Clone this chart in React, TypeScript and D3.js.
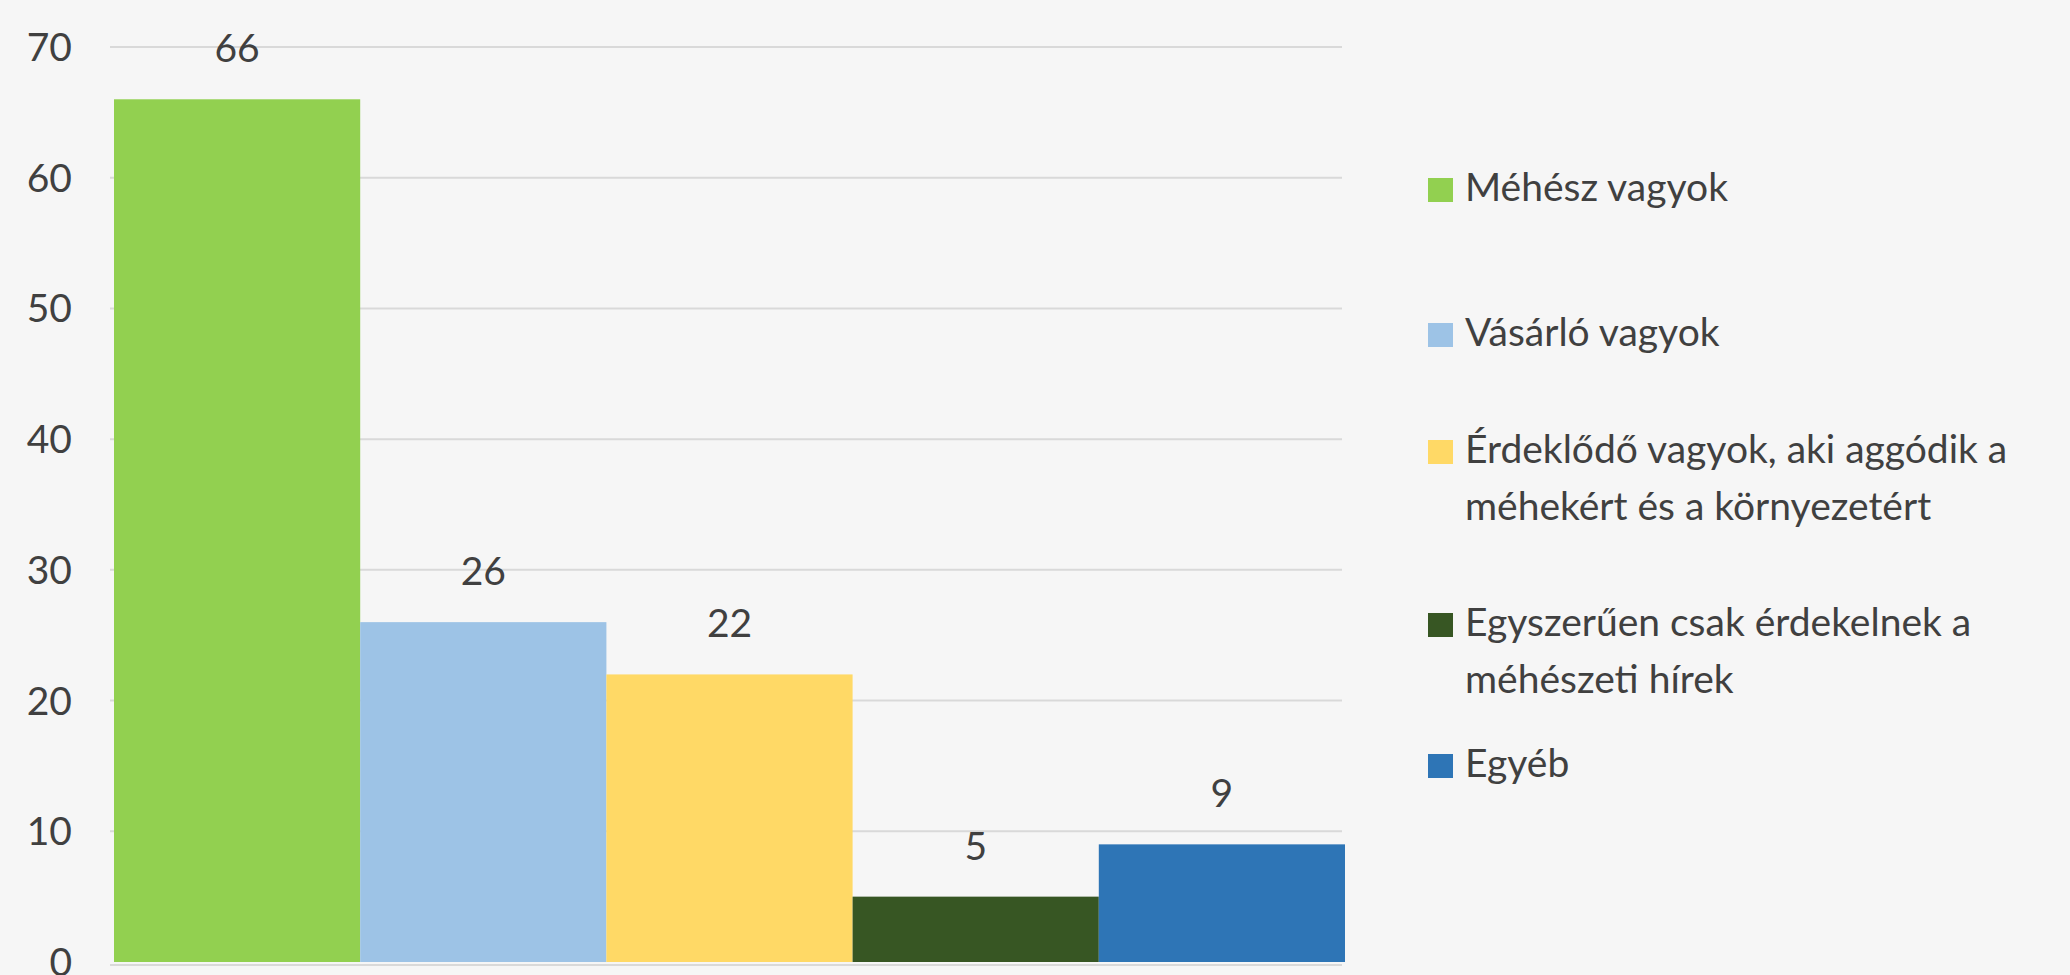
import React from "react";
import * as d3 from "d3";

const seriesNames: string[] = [
  "Méhész vagyok",
  "Vásárló vagyok",
  "Érdeklődő vagyok, aki aggódik a méhekért és a környezetért",
  "Egyszerűen csak érdekelnek a méhészeti hírek",
  "Egyéb",
];
const seriesValues: number[] = [66, 26, 22, 5, 9];
const seriesColors: string[] = ["#92d050", "#9dc3e6", "#ffd966", "#375623", "#2e75b6"];
const legendLines: string[][] = [
  ["Méhész vagyok"],
  ["Vásárló vagyok"],
  ["Érdeklődő vagyok, aki aggódik a", "méhekért és a környezetért"],
  ["Egyszerűen csak érdekelnek a", "méhészeti hírek"],
  ["Egyéb"],
];
const yTicks: number[] = [0, 10, 20, 30, 40, 50, 60, 70];

const W = 2070;
const H = 975;
const FONT = "Lato, Calibri, 'Noto Sans', sans-serif";
const TEXT = "#404040";
const legendBaselines = [201, 346, 463, 636, 777];
const LINE_H = 57;

export default function App() {
  const plotLeft = 110;
  const plotRight = 1346;
  const y = d3.scaleLinear().domain([0, 70]).range([962, 47]);
  const x = d3
    .scaleBand<string>()
    .domain(seriesNames)
    .range([plotLeft + 4, plotRight - 1])
    .paddingInner(0)
    .paddingOuter(0);

  return (
    <svg
      width={W}
      height={H}
      style={{ position: "absolute", left: 0, top: 0, background: "#f6f6f6" }}
      fontFamily={FONT}
    >
      <rect x={0} y={0} width={W} height={H} fill="#f6f6f6" />
      {yTicks.map((t) => (
        <g key={t}>
          {t > 0 && (
            <line
              x1={plotLeft}
              x2={plotRight - 4}
              y1={y(t)}
              y2={y(t)}
              stroke="#d9d9d9"
              strokeWidth={2}
            />
          )}
          <text
            x={72}
            y={y(t)}
            dy="0.36em"
            textAnchor="end"
            fontSize={39}
            fill={TEXT}
          >
            {t}
          </text>
        </g>
      ))}
      {seriesNames.map((s, i) => (
        <rect
          key={s}
          x={x(s)}
          y={y(seriesValues[i])}
          width={x.bandwidth()}
          height={y(0) - y(seriesValues[i])}
          fill={seriesColors[i]}
        />
      ))}
      <line x1={plotLeft} x2={plotRight - 4} y1={y(0) + 3} y2={y(0) + 3} stroke="#d9d9d9" strokeWidth={2} />
      {seriesNames.map((s, i) => (
        <text
          key={"l" + s}
          x={(x(s) as number) + x.bandwidth() / 2}
          y={y(seriesValues[i]) - 37}
          textAnchor="middle"
          fontSize={39}
          fill={TEXT}
        >
          {seriesValues[i]}
        </text>
      ))}
      {legendLines.map((lines, i) => (
        <g key={"lg" + i}>
          <rect x={1428} y={legendBaselines[i] - 23} width={25} height={24} fill={seriesColors[i]} />
          <text x={1465} y={legendBaselines[i]} fontSize={39} fill={TEXT}>
            {lines.map((ln, j) => (
              <tspan key={j} x={1465} y={legendBaselines[i] + j * LINE_H}>
                {ln}
              </tspan>
            ))}
          </text>
        </g>
      ))}
    </svg>
  );
}
